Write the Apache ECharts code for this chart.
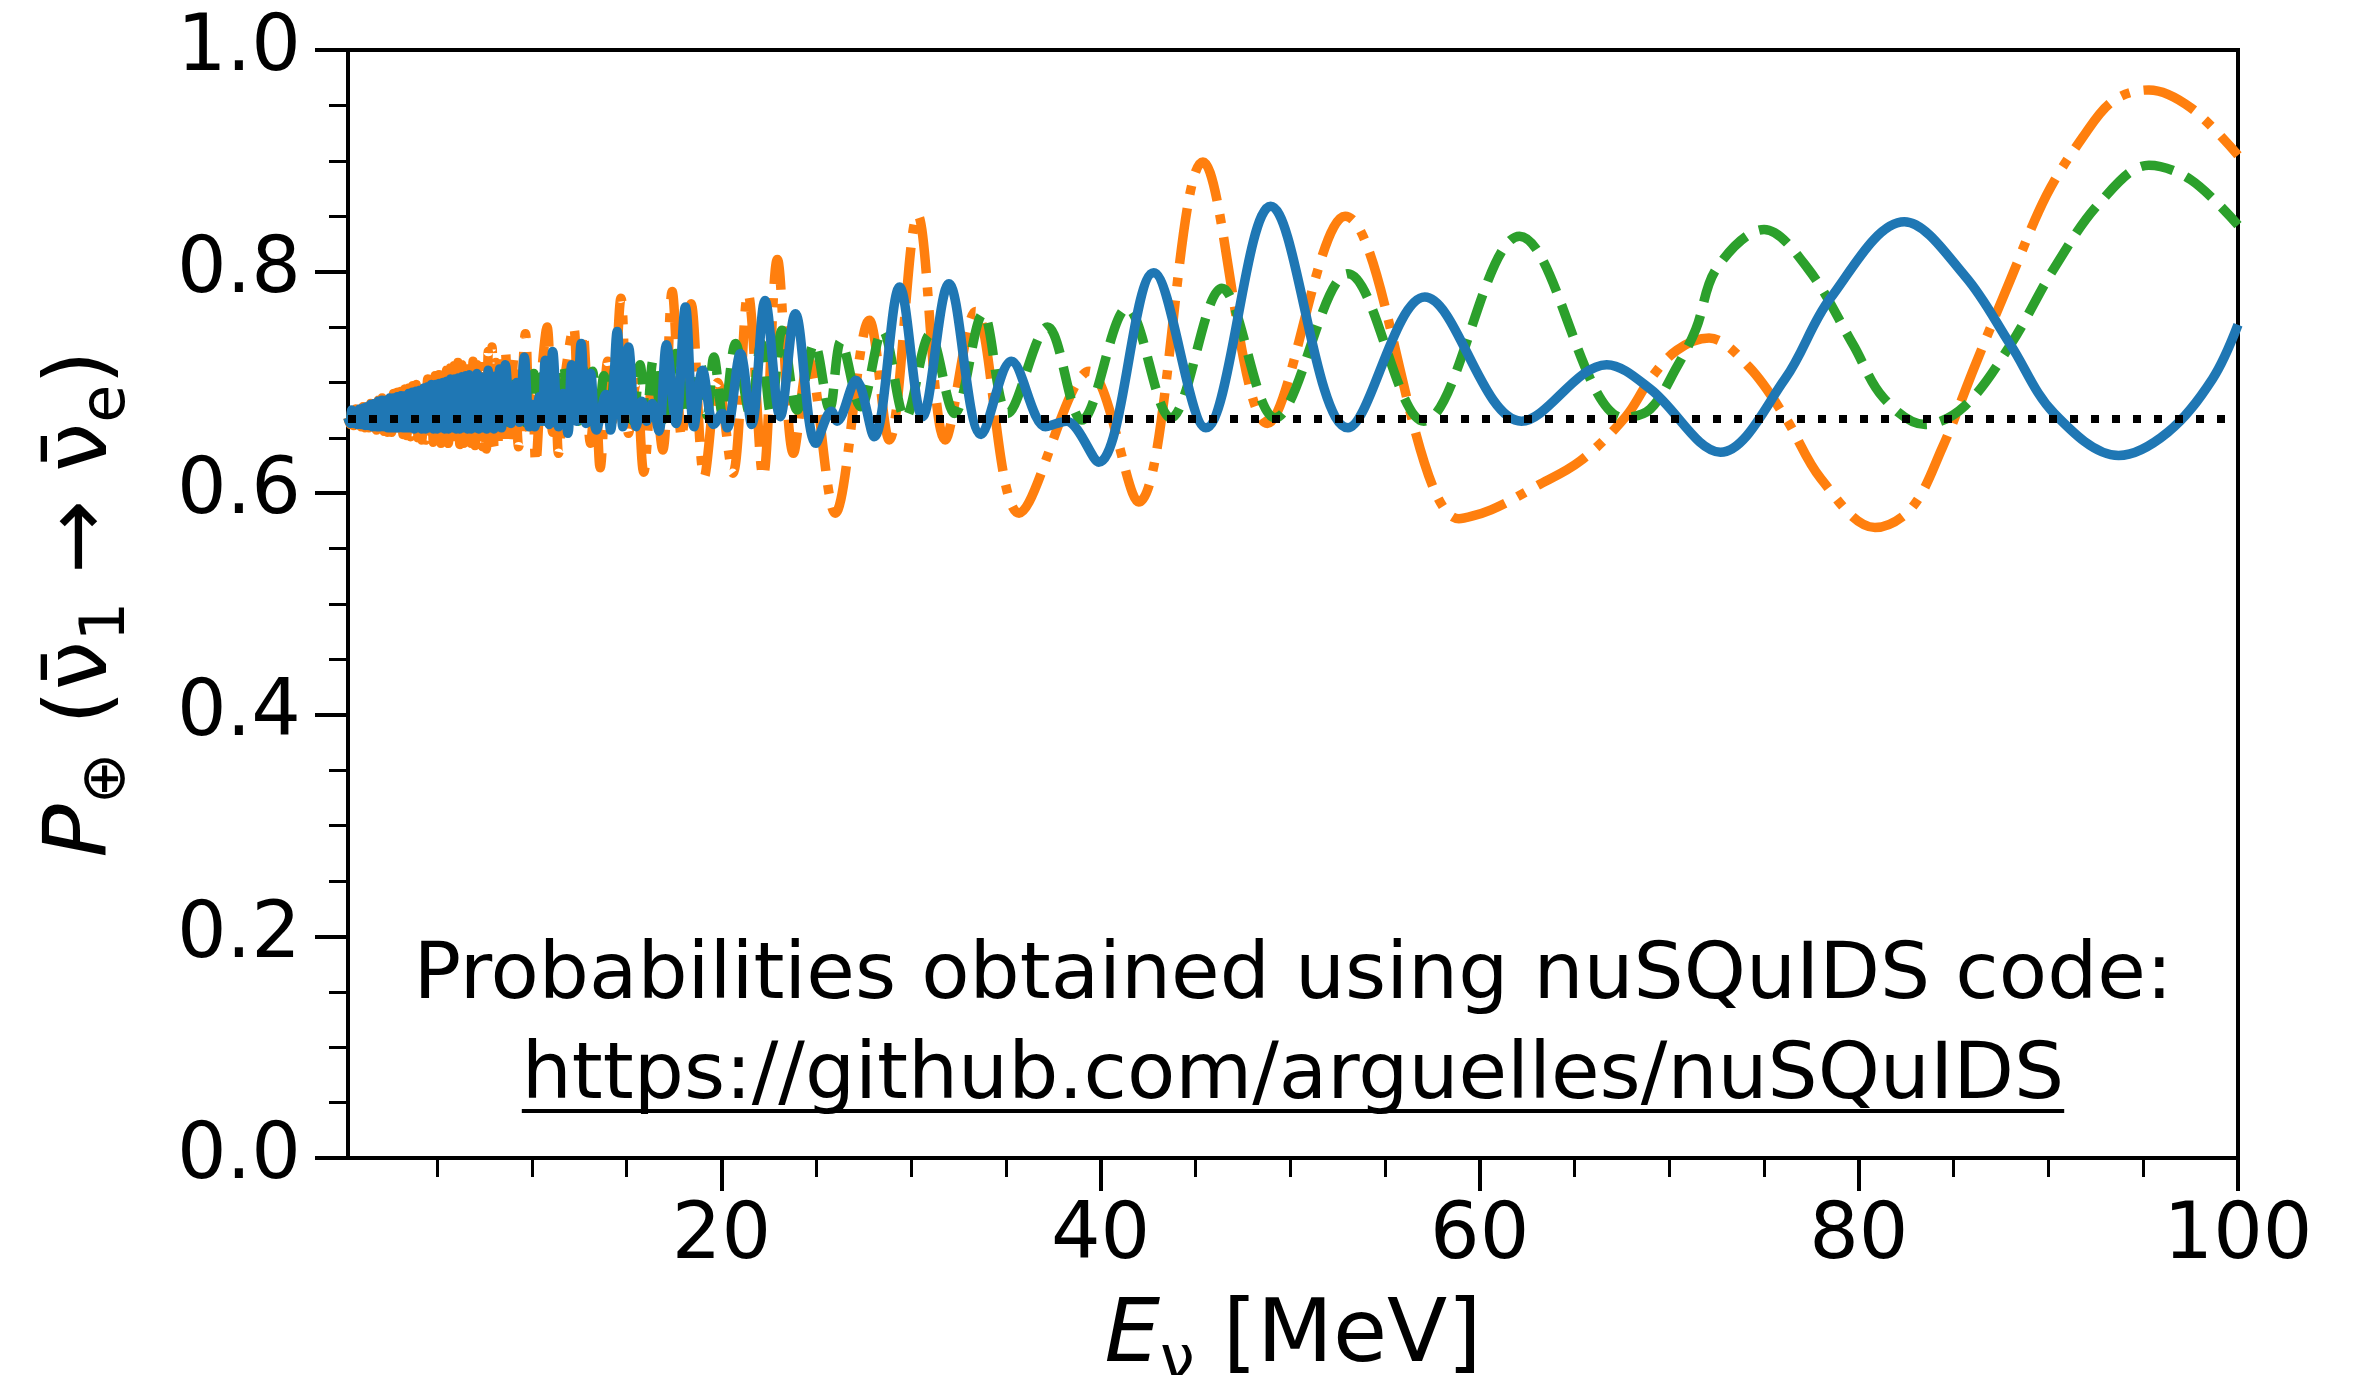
<!DOCTYPE html>
<html><head><meta charset="utf-8">
<script src="https://cdn.jsdelivr.net/npm/echarts@6/dist/echarts.min.js"></script>
<style>html,body{margin:0;padding:0;background:#fff}#c{width:2355px;height:1375px}</style>
</head><body><div id="c"></div>
<script>
// ---- axis ranges / ticks ----
const xMin = 0.3, xMax = 100;
const xMajorTicks = [20, 40, 60, 80, 100];
const xMinorTicks = [5, 10, 15, 25, 30, 35, 45, 50, 55, 65, 70, 75, 85, 90, 95];
const yMin = 0, yMax = 1, yStep = 0.2;

// ---- text ----
const noteLine1 = 'Probabilities obtained using nuSQuIDS code:';
const noteLine2 = 'https://github.com/arguelles/nuSQuIDS';
const xName = '{i|E}{s|ν} {n|[MeV]}';
const yName = '{i|P}{s|⊕} {n|(ν\u0304}{s|1}{n| → ν\u0304}{s|e}{n|)}';

// ---- data: [E (MeV), probability] ----
const refLevel = [[0.3, 0.667], [100, 0.667]];

const orangeData = [
[0.3,0.668],[0.4,0.662],[0.5,0.674],[0.6,0.661],[0.7,0.676],[0.8,0.660],[0.9,0.677],[1.0,0.660],[1.1,0.678],[1.2,0.659],
[1.3,0.680],[1.4,0.659],[1.5,0.681],[1.6,0.658],[1.7,0.683],[1.8,0.657],[1.9,0.684],[2.0,0.657],[2.1,0.686],[2.2,0.656],
[2.3,0.687],[2.4,0.655],[2.5,0.688],[2.6,0.655],[2.7,0.690],[2.8,0.654],[2.9,0.691],[3.0,0.653],[3.1,0.692],[3.2,0.653],
[3.3,0.694],[3.4,0.652],[3.5,0.695],[3.6,0.651],[3.7,0.697],[3.8,0.650],[3.9,0.698],[4.0,0.650],[4.1,0.700],[4.2,0.648],
[4.3,0.702],[4.4,0.648],[4.5,0.703],[4.6,0.647],[4.7,0.705],[4.8,0.646],[4.9,0.706],[5.0,0.646],[5.1,0.707],[5.2,0.645],
[5.3,0.709],[5.4,0.645],[5.5,0.711],[5.6,0.645],[5.7,0.713],[5.8,0.644],[5.9,0.715],[6.0,0.645],[6.1,0.718],[6.2,0.644],
[6.3,0.716],[6.4,0.645],[6.5,0.719],[6.6,0.644],[6.7,0.712],[6.8,0.645],[6.9,0.719],[7.0,0.643],[7.1,0.716],[7.2,0.645],
[7.3,0.720],[7.4,0.642],[7.5,0.714],[7.6,0.640],[7.7,0.728],[7.8,0.638],[7.9,0.732],[8.0,0.642],[8.1,0.718],[8.2,0.641],
[8.3,0.726],[8.4,0.643],[8.6,0.729],[8.8,0.645],[9.05,0.722],[9.3,0.642],[9.66,0.744],[9.9,0.655],[10.05,0.685],[10.2,0.627],
[10.5,0.705],[10.8,0.750],[11.1,0.655],[11.25,0.690],[11.4,0.636],[11.75,0.705],[12.2,0.750],[12.45,0.665],[12.7,0.744],[13.1,0.645],
[13.35,0.690],[13.6,0.623],[14.0,0.719],[14.25,0.665],[14.7,0.776],[15.1,0.654],[15.5,0.700],[15.9,0.619],[16.4,0.705],[16.9,0.639],
[17.4,0.782],[17.9,0.650],[18.4,0.771],[19.1,0.615],[19.8,0.700],[20.6,0.618],[21.4,0.780],[22.2,0.615],[22.95,0.811],[23.8,0.636],
[24.6,0.720],[26.0,0.582],[27.8,0.756],[28.85,0.648],[30.35,0.851],[31.8,0.648],[33.4,0.764],[35.7,0.582],[39.4,0.710],[42.0,0.592],
[45.4,0.899],[48.8,0.663],[52.9,0.850],[58.9,0.577],[60.6,0.585],[62.95,0.606],[65.3,0.629],[67.7,0.669],[69.0,0.703],[70.4,0.729],
[72.1,0.740],[74.2,0.714],[76.1,0.669],[78.0,0.613],[80.85,0.569],[82.75,0.586],[84.4,0.641],[86.1,0.714],[88.0,0.793],[89.9,0.869],
[91.8,0.921],[93.4,0.954],[95.3,0.964],[97.5,0.948],[100,0.905]
];

const greenData = [
[0.3,0.668],[0.4,0.665],[0.5,0.671],[0.6,0.665],[0.7,0.672],[0.8,0.665],[0.9,0.673],[1.0,0.665],[1.1,0.674],[1.2,0.665],
[1.3,0.675],[1.4,0.665],[1.5,0.676],[1.6,0.665],[1.7,0.677],[1.8,0.665],[1.9,0.678],[2.0,0.664],[2.1,0.679],[2.2,0.665],
[2.3,0.680],[2.4,0.664],[2.5,0.681],[2.6,0.665],[2.7,0.682],[2.8,0.664],[2.9,0.683],[3.0,0.665],[3.1,0.684],[3.2,0.664],
[3.3,0.685],[3.4,0.665],[3.5,0.686],[3.6,0.664],[3.7,0.687],[3.8,0.664],[3.9,0.688],[4.0,0.665],[4.1,0.689],[4.2,0.664],
[4.3,0.690],[4.4,0.664],[4.5,0.691],[4.6,0.665],[4.7,0.692],[4.8,0.664],[4.9,0.693],[5.0,0.664],[5.1,0.694],[5.2,0.665],
[5.3,0.695],[5.4,0.664],[5.5,0.696],[5.6,0.664],[5.7,0.697],[5.8,0.665],[5.9,0.698],[6.0,0.664],[6.1,0.699],[6.2,0.664],
[6.3,0.700],[6.4,0.665],[6.5,0.700],[6.6,0.664],[6.7,0.701],[6.8,0.664],[6.9,0.702],[7.0,0.665],[7.1,0.702],[7.2,0.664],
[7.3,0.703],[7.4,0.664],[7.5,0.703],[7.6,0.665],[7.7,0.704],[7.8,0.664],[7.9,0.704],[8.0,0.664],[8.1,0.705],[8.2,0.665],
[8.3,0.705],[8.4,0.664],[8.6,0.705],[8.75,0.664],[8.9,0.702],[9.05,0.665],[9.2,0.706],[9.35,0.664],[9.5,0.703],[9.65,0.664],
[9.8,0.702],[9.95,0.665],[10.1,0.708],[10.3,0.664],[10.5,0.705],[10.7,0.665],[10.9,0.712],[11.1,0.664],[11.3,0.710],[11.5,0.665],
[11.7,0.714],[11.95,0.664],[12.2,0.708],[12.45,0.665],[12.7,0.712],[12.95,0.664],[13.2,0.710],[13.5,0.666],[13.8,0.706],[14.1,0.665],
[14.4,0.714],[14.7,0.664],[15.0,0.710],[15.35,0.665],[15.7,0.716],[16.05,0.666],[16.4,0.720],[16.9,0.666],[17.6,0.726],[18.2,0.670],
[18.9,0.715],[19.25,0.670],[19.6,0.723],[20.1,0.668],[20.75,0.735],[21.5,0.672],[22.1,0.735],[22.6,0.672],[23.2,0.747],[24.0,0.675],
[24.9,0.735],[25.7,0.676],[26.3,0.737],[27.35,0.678],[28.5,0.747],[29.7,0.668],[31.0,0.743],[32.3,0.672],[33.8,0.762],[35.1,0.672],
[37.2,0.750],[39.0,0.666],[41.4,0.767],[43.7,0.668],[46.4,0.785],[49.2,0.668],[53.05,0.798],[57.05,0.665],[62.1,0.832],[67.6,0.668],
[69.0,0.676],[70.4,0.714],[71.4,0.748],[72.5,0.803],[75.0,0.838],[77.3,0.803],[79.7,0.734],[81.3,0.686],[83.5,0.662],[85.6,0.679],
[88.0,0.734],[90.3,0.803],[92.7,0.862],[95.3,0.896],[97.5,0.883],[100,0.842]
];

const blueData = [
[0.3,0.668],[0.4,0.663],[0.5,0.675],[0.6,0.663],[0.7,0.674],[0.8,0.662],[0.9,0.676],[1.0,0.662],[1.1,0.677],[1.2,0.661],
[1.3,0.678],[1.4,0.661],[1.5,0.680],[1.6,0.660],[1.7,0.681],[1.8,0.660],[1.9,0.683],[2.0,0.660],[2.1,0.684],[2.2,0.660],
[2.3,0.684],[2.4,0.659],[2.5,0.686],[2.6,0.659],[2.7,0.686],[2.8,0.659],[2.9,0.687],[3.0,0.659],[3.1,0.688],[3.2,0.659],
[3.3,0.688],[3.4,0.659],[3.5,0.690],[3.6,0.659],[3.7,0.691],[3.8,0.658],[3.9,0.692],[4.0,0.659],[4.1,0.693],[4.2,0.658],
[4.3,0.695],[4.4,0.658],[4.5,0.696],[4.6,0.659],[4.7,0.698],[4.8,0.658],[4.9,0.698],[5.0,0.658],[5.1,0.699],[5.2,0.659],
[5.3,0.700],[5.4,0.658],[5.5,0.701],[5.6,0.658],[5.7,0.703],[5.8,0.659],[5.9,0.703],[6.0,0.658],[6.1,0.704],[6.2,0.658],
[6.3,0.705],[6.4,0.659],[6.5,0.706],[6.6,0.658],[6.7,0.707],[6.8,0.658],[6.9,0.700],[7.0,0.659],[7.1,0.708],[7.2,0.658],
[7.3,0.705],[7.4,0.659],[7.5,0.702],[7.6,0.658],[7.7,0.711],[7.8,0.659],[7.9,0.700],[8.0,0.658],[8.1,0.706],[8.2,0.660],
[8.3,0.712],[8.4,0.659],[8.6,0.716],[8.9,0.663],[9.2,0.700],[9.35,0.664],[9.6,0.723],[9.85,0.660],[10.0,0.680],[10.15,0.660],
[10.4,0.687],[10.55,0.665],[10.7,0.720],[10.9,0.662],[11.1,0.728],[11.4,0.660],[11.65,0.690],[11.9,0.654],[12.1,0.716],[12.35,0.665],
[12.6,0.735],[12.85,0.663],[13.1,0.708],[13.4,0.657],[13.9,0.689],[14.15,0.657],[14.5,0.746],[14.8,0.660],[15.1,0.732],[15.5,0.660],
[15.8,0.683],[16.05,0.665],[16.35,0.681],[16.7,0.656],[17.1,0.734],[17.6,0.663],[18.1,0.768],[18.55,0.660],[19.0,0.711],[19.6,0.662],
[20.05,0.672],[20.3,0.659],[21.0,0.726],[21.6,0.662],[22.3,0.774],[23.1,0.669],[23.9,0.762],[24.98,0.645],[25.8,0.674],[26.1,0.665],
[27.1,0.702],[28.06,0.651],[29.4,0.786],[30.6,0.669],[32.0,0.789],[33.7,0.653],[35.3,0.719],[37.1,0.660],[37.7,0.663],[38.2,0.665],
[39.9,0.628],[42.8,0.799],[45.55,0.659],[48.97,0.859],[53.05,0.659],[57.1,0.777],[62.2,0.665],[66.7,0.716],[69.0,0.694],[72.7,0.637],
[76.1,0.703],[78.5,0.776],[82.4,0.845],[85.6,0.796],[88.0,0.734],[90.3,0.672],[93.7,0.634],[96.3,0.655],[98.65,0.703],[100,0.752]
];

// ---- colours / fonts ----
const FONT = 'DejaVu Sans';
const C_BLUE = '#1f77b4', C_ORANGE = '#ff7f0e', C_GREEN = '#2ca02c';
const LW = 9.5;

const G = { left: 348, top: 50, width: 1890, height: 1108 };
const cx = G.left + G.width / 2;

const chart = echarts.init(document.getElementById('c'), null, { renderer: 'canvas', width: 2355, height: 1375 });

const meas = document.createElement('canvas').getContext('2d');
meas.font = '79px "' + FONT + '"';
const w2 = meas.measureText(noteLine2).width;

const nameRich = {
  i: { fontSize: 88, fontStyle: 'italic', fontFamily: FONT, lineHeight: 112, color: '#000' },
  n: { fontSize: 88, fontFamily: FONT, lineHeight: 112, color: '#000' },
  s: { fontSize: 62, fontFamily: FONT, lineHeight: 62, verticalAlign: 'bottom', color: '#000' }
};

const option = {
  animation: false,
  backgroundColor: '#fff',
  grid: Object.assign({}, G, { show: true, borderColor: '#000', borderWidth: 4, backgroundColor: 'transparent',
    containLabel: false, outerBoundsMode: 'none' }),
  xAxis: [{
    type: 'value', min: xMin, max: xMax, position: 'bottom',
    axisLine: { show: true, onZero: false, lineStyle: { color: '#000', width: 4 } },
    axisTick: { show: true, inside: false, length: 33, lineStyle: { color: '#000', width: 4 }, customValues: xMajorTicks },
    axisLabel: { show: true, customValues: xMajorTicks, margin: 41, color: '#000', fontSize: 78, fontFamily: FONT },
    splitLine: { show: false },
    name: xName, nameLocation: 'middle', nameGap: 118,
    nameTextStyle: { color: '#000', fontSize: 88, fontFamily: FONT, lineHeight: 112, rich: nameRich }
  }, {
    type: 'value', min: xMin, max: xMax, position: 'bottom',
    axisLine: { show: false }, axisLabel: { show: false }, splitLine: { show: false },
    axisTick: { show: true, inside: false, length: 19, lineStyle: { color: '#000', width: 3 }, customValues: xMinorTicks }
  }],
  yAxis: {
    type: 'value', min: yMin, max: yMax, interval: yStep,
    axisLine: { show: true, onZero: false, lineStyle: { color: '#000', width: 4 } },
    axisTick: { show: true, inside: false, length: 33, lineStyle: { color: '#000', width: 4 } },
    minorTick: { show: true, splitNumber: 4, length: 19, lineStyle: { color: '#000', width: 3 } },
    axisLabel: { margin: 47, color: '#000', fontSize: 78, fontFamily: FONT, formatter: v => v.toFixed(1) },
    splitLine: { show: false },
    name: yName, nameLocation: 'middle', nameRotate: 90, nameGap: 209,
    nameTextStyle: { color: '#000', fontSize: 88, fontFamily: FONT, lineHeight: 112, rich: nameRich }
  },
  series: [
    { type: 'line', data: orangeData, xAxisIndex: 0, showSymbol: false, symbol: 'none', smooth: 0.35, silent: true,
      lineStyle: { color: C_ORANGE, width: LW, type: [56, 14, 9, 14], cap: 'butt', join: 'round' } },
    { type: 'line', data: greenData, xAxisIndex: 0, showSymbol: false, symbol: 'none', smooth: 0.35, silent: true,
      lineStyle: { color: C_GREEN, width: LW, type: [33, 14], cap: 'butt', join: 'round' } },
    { type: 'line', data: blueData, xAxisIndex: 0, showSymbol: false, symbol: 'none', smooth: 0.35, silent: true,
      lineStyle: { color: C_BLUE, width: LW, type: 'solid', cap: 'butt', join: 'round' } },
    { type: 'line', data: refLevel, xAxisIndex: 0, showSymbol: false, symbol: 'none', silent: true,
      lineStyle: { color: '#000', width: 8, type: [8, 13], cap: 'butt' } }
  ],
  graphic: [
    { type: 'text', x: cx, y: 977, z: 100,
      style: { text: noteLine1, fontSize: 79, fontFamily: FONT, fill: '#000', align: 'center', verticalAlign: 'middle' } },
    { type: 'text', x: cx, y: 1077, z: 100,
      style: { text: noteLine2, fontSize: 79, fontFamily: FONT, fill: '#000', align: 'center', verticalAlign: 'middle' } },
    { type: 'line', z: 100, shape: { x1: cx - w2 / 2, y1: 1111, x2: cx + w2 / 2, y2: 1111 },
      style: { stroke: '#000', lineWidth: 4 } }
  ]
};
chart.setOption(option);
</script>
</body></html>
